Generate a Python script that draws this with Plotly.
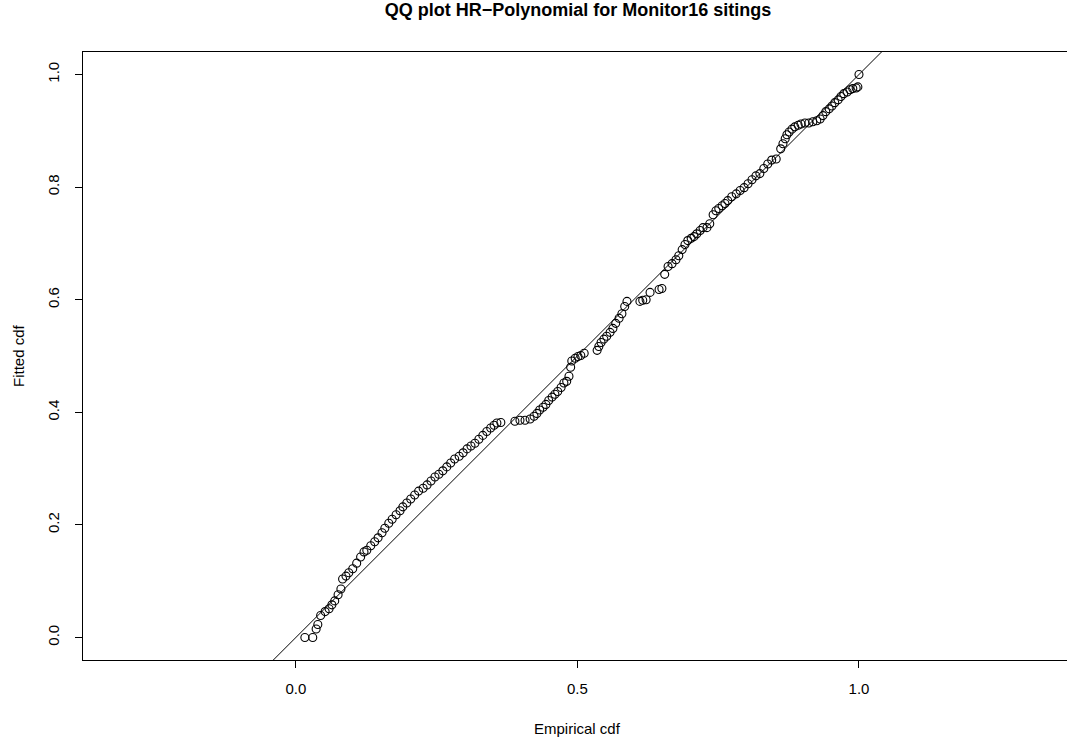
import plotly.graph_objects as go

# Empirical cdf (x) and fitted cdf (y)
x_emp = [
    0.016, 0.030, 0.036, 0.039, 0.044, 0.052, 0.059, 0.064, 0.069, 0.075,
    0.080, 0.083, 0.089, 0.094, 0.101, 0.108, 0.115, 0.121, 0.126, 0.133,
    0.140, 0.146, 0.153, 0.158, 0.165, 0.171, 0.178, 0.185, 0.190, 0.197,
    0.204, 0.211, 0.218, 0.226, 0.233, 0.240, 0.247, 0.254, 0.261, 0.268,
    0.275, 0.282, 0.290, 0.297, 0.304, 0.311, 0.318, 0.325, 0.332, 0.339,
    0.346, 0.352, 0.357, 0.364,
    0.389, 0.398, 0.407, 0.416, 0.423, 0.428, 0.433, 0.439, 0.444, 0.449,
    0.455, 0.460, 0.465, 0.471, 0.476, 0.481, 0.485, 0.488, 0.490, 0.496,
    0.501, 0.506, 0.512,
    0.535, 0.538, 0.542, 0.547, 0.552, 0.558, 0.563, 0.568, 0.574, 0.579,
    0.584, 0.588,
    0.611, 0.616, 0.622, 0.629, 0.645, 0.650, 0.655, 0.661, 0.668, 0.675,
    0.680, 0.686, 0.691, 0.696, 0.702, 0.707, 0.712, 0.718, 0.723, 0.730,
    0.735, 0.741, 0.746, 0.751, 0.757, 0.762, 0.767, 0.774, 0.782, 0.789,
    0.796, 0.803, 0.810, 0.817, 0.824, 0.831, 0.838, 0.845, 0.853, 0.861,
    0.865, 0.869, 0.872, 0.876, 0.881, 0.886, 0.892, 0.897, 0.904, 0.911,
    0.918, 0.925, 0.931, 0.936, 0.941, 0.947, 0.952, 0.957, 0.963, 0.968,
    0.973, 0.979, 0.984, 0.989, 0.995, 0.998, 1.000,
]
y_fit = [
    0.000, 0.000, 0.015, 0.023, 0.039, 0.046, 0.051, 0.058, 0.065, 0.076,
    0.086, 0.104, 0.109, 0.115, 0.122, 0.132, 0.143, 0.152, 0.155, 0.163,
    0.170, 0.177, 0.186, 0.194, 0.203, 0.210, 0.218, 0.225, 0.232, 0.239,
    0.246, 0.253, 0.260, 0.265, 0.271, 0.278, 0.285, 0.290, 0.296, 0.303,
    0.310, 0.317, 0.322, 0.328, 0.335, 0.340, 0.345, 0.352, 0.359, 0.366,
    0.372, 0.377, 0.381, 0.382,
    0.384, 0.386, 0.386, 0.388, 0.393, 0.398, 0.404, 0.409, 0.414, 0.421,
    0.427, 0.432, 0.437, 0.444, 0.452, 0.455, 0.464, 0.480, 0.491, 0.496,
    0.499, 0.501, 0.505,
    0.510, 0.517, 0.524, 0.530, 0.535, 0.542, 0.549, 0.558, 0.567, 0.575,
    0.588, 0.597,
    0.597, 0.599, 0.600, 0.613, 0.618, 0.620, 0.645, 0.659, 0.664, 0.671,
    0.678, 0.689, 0.698, 0.705, 0.709, 0.712, 0.717, 0.723, 0.728, 0.728,
    0.735, 0.751, 0.758, 0.762, 0.767, 0.771, 0.776, 0.783, 0.788, 0.794,
    0.799, 0.806, 0.813, 0.820, 0.824, 0.833, 0.841, 0.848, 0.850, 0.868,
    0.877, 0.886, 0.893, 0.898, 0.903, 0.907, 0.910, 0.912, 0.914, 0.914,
    0.916, 0.918, 0.921, 0.927, 0.934, 0.939, 0.944, 0.950, 0.955, 0.961,
    0.966, 0.969, 0.973, 0.975, 0.976, 0.978, 1.000,
]

x_ticks = [0.0, 0.5, 1.0]
x_tick_labels = ["0.0", "0.5", "1.0"]
y_ticks = [0.0, 0.2, 0.4, 0.6, 0.8, 1.0]
y_tick_labels = ["0.0", "0.2", "0.4", "0.6", "0.8", "1.0"]
ref_line = [-0.5, 1.5]

FONT = "Liberation Sans, Arial, Helvetica, sans-serif"

fig = go.Figure()
fig.add_trace(go.Scatter(
    x=ref_line, y=ref_line, mode="lines",
    line=dict(color="black", width=1), hoverinfo="skip",
))
fig.add_trace(go.Scatter(
    x=x_emp, y=y_fit, mode="markers",
    marker=dict(symbol="circle-open", size=8, color="black",
                line=dict(color="black", width=1.1)),
))

fig.update_layout(
    width=1067, height=738,
    margin=dict(l=83, r=0, t=52, b=78),
    paper_bgcolor="white", plot_bgcolor="white",
    showlegend=False,
    font=dict(family=FONT, size=15, color="black"),
    title=dict(text="<b>QQ plot HR\u2212Polynomial for Monitor16 sitings</b>",
               xref="container", yref="container",
               x=578 / 1067, y=1 - 10 / 738, xanchor="center", yanchor="middle",
               font=dict(family=FONT, size=18, color="black")),
    xaxis=dict(range=[-0.378, 1.3694], showgrid=False, zeroline=False,
               showline=True, mirror=True, linecolor="black", linewidth=1,
               ticks="outside", ticklen=7, tickcolor="black", tickwidth=1,
               tickvals=x_ticks, ticktext=x_tick_labels,
               ticklabelstandoff=8, tickfont=dict(size=15)),
    yaxis=dict(range=[-0.04, 1.04], showgrid=False, zeroline=False,
               showline=True, mirror=False, linecolor="black", linewidth=1,
               ticks="outside", ticklen=7, tickcolor="black", tickwidth=1,
               tickvals=y_ticks, ticktext=y_tick_labels, tickangle=-90,
               ticklabelstandoff=10, tickfont=dict(size=15)),
    annotations=[
        dict(text="Empirical cdf", xref="paper", yref="paper",
             x=(577 - 83) / 984, y=(660 - 728) / 608,
             xanchor="center", yanchor="middle", showarrow=False,
             font=dict(size=15)),
        dict(text="Fitted cdf", xref="paper", yref="paper",
             x=(18 - 83) / 984, y=0.5, textangle=-90,
             xanchor="center", yanchor="middle", showarrow=False,
             font=dict(size=15)),
    ],
)

fig.write_html("out.html")
